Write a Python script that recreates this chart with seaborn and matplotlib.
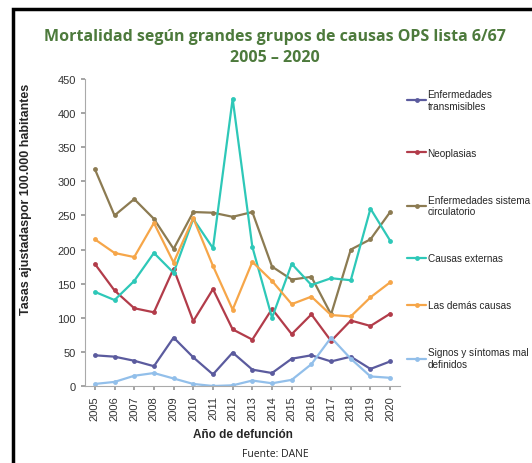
import pandas as pd
import numpy as np
import matplotlib.pyplot as plt
import seaborn as sns
from matplotlib.patches import Rectangle

# ── datos ─────────────────────────────────────────────────────────────────────
years = list(range(2005, 2021))

transmisibles = [45, 43, 37, 29, 71, 42, 17, 49, 24, 19, 40, 45, 36, 43, 25, 36]
neoplasias    = [179, 140, 114, 108, 172, 95, 142, 83, 68, 113, 76, 105, 66, 96, 88, 106]
circulatorio  = [318, 250, 274, 245, 201, 255, 254, 248, 255, 175, 156, 160, 105, 200, 215, 255]
externas      = [138, 126, 154, 195, 166, 245, 202, 421, 204, 100, 179, 148, 158, 155, 260, 213]
demas         = [215, 195, 189, 239, 181, 246, 176, 112, 182, 154, 120, 131, 104, 102, 130, 152]
signos        = [3, 6, 15, 19, 11, 3, 0, 1, 8, 4, 9, 32, 71, 40, 14, 12]

labels = [
    "Enfermedades\ntransmisibles",
    "Neoplasias",
    "Enfermedades sistema\ncirculatorio",
    "Causas externas",
    "Las demás causas",
    "Signos y síntomas mal\ndefinidos",
]
series = [transmisibles, neoplasias, circulatorio, externas, demas, signos]
colores = ["#5b5b9e", "#b23c4a", "#8c7b52", "#2ec8b8", "#f6a649", "#92bfea"]

df = pd.DataFrame({
    "year": np.tile(years, len(series)),
    "valor": np.concatenate(series),
    "grupo": np.repeat(labels, len(years)),
})

# ── estilo ────────────────────────────────────────────────────────────────────
sns.set_theme(style="white")
plt.rcParams["font.family"] = ["Liberation Sans", "DejaVu Sans"]

fig = plt.figure(figsize=(5.32, 4.64), dpi=100)
ax = fig.add_axes([85 / 532, 1 - 387 / 464, 315 / 532, 307 / 464])

sns.lineplot(data=df, x="year", y="valor", hue="grupo", hue_order=labels,
             palette=colores, marker="o", markersize=3.5, markeredgewidth=0,
             linewidth=1.6, ax=ax)

ax.set_xlim(2004.5, 2020.5)
ax.set_ylim(0, 450)
ax.set_xticks(years)
ax.set_xticklabels([str(y) for y in years], rotation=90, fontsize=8, color="#333333")
ax.set_yticks(range(0, 451, 50))
ax.tick_params(axis="y", labelsize=8, colors="#333333", length=3, color="#999999")
ax.tick_params(axis="x", length=3, color="#999999")
ax.tick_params(axis="both", direction="out", left=True, bottom=True)
for s in ["top", "right"]:
    ax.spines[s].set_visible(False)
for s in ["left", "bottom"]:
    ax.spines[s].set_color("#aaaaaa")
    ax.spines[s].set_linewidth(0.8)

ax.set_xlabel("Año de defunción", fontsize=8.5, fontweight="bold", labelpad=6)
ax.set_ylabel("Tasas ajustadaspor 100.000 habitantes", fontsize=9,
              fontweight="bold")
ax.yaxis.set_label_coords(-0.168, 0.61)

handles, lbls = ax.get_legend_handles_labels()
ax.legend(handles, lbls, loc="upper left", bbox_to_anchor=(1.0, 0.99),
          frameon=False, fontsize=7.2, handlelength=1.9, handletextpad=0.15,
          labelspacing=3.7, borderaxespad=0.3)

fig.text(0.517, 1 - 37 / 464, "Mortalidad según grandes grupos de causas OPS lista 6/67",
         ha="center", va="center", fontsize=11.5, fontweight="bold",
         color="#4d7a3c", family=["Open Sans", "DejaVu Sans"])
fig.text(0.517, 1 - 58 / 464, "2005 – 2020", ha="center", va="center",
         fontsize=11.5, fontweight="bold", color="#4d7a3c",
         family=["Open Sans", "DejaVu Sans"])
fig.text(275 / 532, 1 - 455 / 464, "Fuente: DANE", ha="center", va="center",
         fontsize=7.5, color="#222222", family=["Open Sans", "DejaVu Sans"])

# marco negro
fig.patches.append(Rectangle((13 / 532, -0.05), 1.2, 1 - 10 / 464 + 0.05,
                             transform=fig.transFigure, fill=False,
                             edgecolor="black", linewidth=2.5))

fig.savefig("out.png", dpi=100)
